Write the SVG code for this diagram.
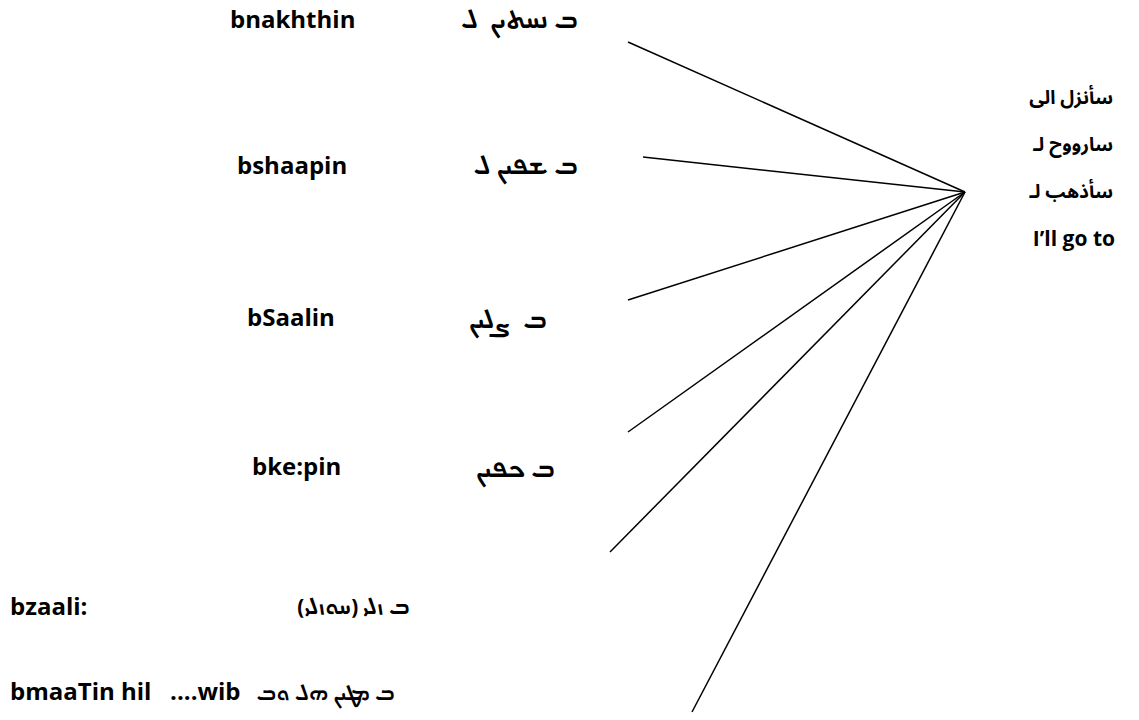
<svg xmlns="http://www.w3.org/2000/svg" width="1139" height="720" viewBox="0 0 1139 720">
<style>
.lat{font-family:"Open Sans","Liberation Sans",sans-serif;font-weight:bold;font-size:24px;fill:#000}
.syr{font-family:"Noto Sans Syriac","Serto Jerusalem","Estrangelo Edessa","DejaVu Sans",sans-serif;font-weight:bold;font-size:24px;fill:#000}
.ar{font-family:"Noto Sans Arabic","Noto Naskh Arabic","DejaVu Sans",sans-serif;font-weight:bold;font-size:19px;fill:#000}
.ln{stroke:#000;stroke-width:1.5;fill:none}
</style>
<rect width="1139" height="720" fill="#fff"/>
<g id="connectors">
<line class="ln" x1="628" y1="42" x2="965" y2="192"/>
<line class="ln" x1="643" y1="157" x2="965" y2="192"/>
<line class="ln" x1="628" y1="300" x2="965" y2="192"/>
<line class="ln" x1="628" y1="432" x2="965" y2="192"/>
<line class="ln" x1="610" y1="552" x2="965" y2="192"/>
<line class="ln" x1="692" y1="712" x2="965" y2="192"/>
</g>
<g id="n1">
<text class="lat" x="230" y="28">bnakhthin</text>
<text class="syr" x="578" y="28" text-anchor="end" xml:space="preserve">ܒ ܢܚܬܝܢ  ܠ</text>
</g>
<g id="n2">
<text class="lat" x="237" y="174">bshaapin</text>
<text class="syr" x="578" y="174" text-anchor="end" xml:space="preserve">ܒ ܫܦܝܢ ܠ</text>
</g>
<g id="n3">
<text class="lat" x="247" y="326">bSaalin</text>
<text class="syr" x="547" y="328" text-anchor="end" xml:space="preserve">ܒ  ܨܠܝܢ</text>
</g>
<g id="n4">
<text class="lat" x="252" y="475">bke:pin</text>
<text class="syr" x="555" y="477" text-anchor="end" xml:space="preserve">ܒ ܟܦܝܢ</text>
</g>
<g id="n5">
<text class="lat" x="10" y="615">bzaali:</text>
<text class="syr" x="410" y="614" text-anchor="end" style="font-size:21px" xml:space="preserve">ܒ ܙܠܝ (ܚܘܙܠܝ)</text>
</g>
<g id="n6">
<text class="lat" x="10" y="700" xml:space="preserve">bmaaTin hil   ....wib</text>
<text class="syr" x="395" y="700" text-anchor="end" style="font-size:20px" xml:space="preserve">ܒ ܡܛܝܢ ܗܠ ܘܒ</text>
</g>
<g id="hub">
<text class="ar" x="1113" y="104" text-anchor="end">سأنزل الى</text>
<text class="ar" x="1113" y="151" text-anchor="end">سارووح لـ</text>
<text class="ar" x="1113" y="198" text-anchor="end">سأذهب لـ</text>
<text class="lat" x="1115" y="246" text-anchor="end" style="font-size:21px">I’ll go to</text>
</g>
</svg>
